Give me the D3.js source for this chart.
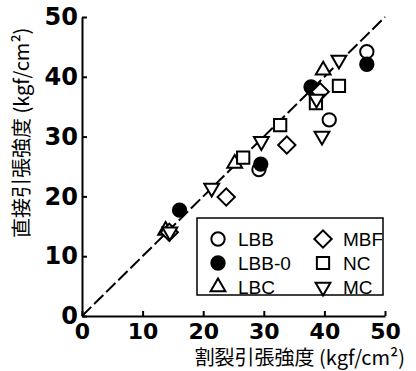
<!DOCTYPE html>
<html>
<head>
<meta charset="utf-8">
<style>
  body { margin: 0; background: #fff; }
  svg { display: block; }
  .tick line, .domain { stroke: #000; stroke-width: 2; }
</style>
</head>
<body>
<div id="chart"></div>
<script src="https://d3js.org/d3.v7.min.js"></script>
<script>
// values: [split tensile, direct tensile]
const LBB   = [[47.0, 44.2], [40.8, 32.8], [29.2, 24.5]];
const LBB_0 = [[47.0, 42.1], [37.8, 38.3], [29.5, 25.4], [16.1, 17.7]];
const LBC   = [[25.2, 25.5], [39.8, 41.1], [13.8, 14.3]];
const MBF   = [[14.4, 14.0], [23.8, 19.9], [33.8, 28.6], [39.3, 37.5]];
const NC    = [[26.6, 26.5], [32.7, 31.9], [38.6, 35.6], [42.4, 38.5]];
const MC    = [[21.4, 21.4], [29.6, 29.2], [39.6, 30.1], [38.7, 36.3], [42.4, 42.8], [14.5, 14.1]];

const ticks = [0, 10, 20, 30, 40, 50];
const xTitle = "割裂引張強度 (kgf/cm²)";
const yTitle = "直接引張強度 (kgf/cm²)";

const series = [
  { name: "LBB",   data: LBB,   shape: "circle",   fill: "#fff" },
  { name: "LBB-0", data: LBB_0, shape: "circle",   fill: "#000" },
  { name: "LBC",   data: LBC,   shape: "triUp",    fill: "#fff" },
  { name: "MBF",   data: MBF,   shape: "diamond",  fill: "#fff" },
  { name: "NC",    data: NC,    shape: "square",   fill: "#fff" },
  { name: "MC",    data: MC,    shape: "triDown",  fill: "#fff" }
];

const width = 416, height = 371;
const svg = d3.select("#chart").append("svg")
  .attr("width", width).attr("height", height);

const x = d3.scaleLinear().domain([0, 50]).range([82, 385]);
const y = d3.scaleLinear().domain([0, 50]).range([316, 17]);

// symbol generators
const symbolFor = shape => {
  if (shape === "circle") return d3.symbol(d3.symbolCircle, 140)();
  if (shape === "square" || shape === "diamond") return d3.symbol(d3.symbolSquare, 150)();
  return d3.symbol(d3.symbolTriangle, 95)();
};
const rotFor = shape => shape === "diamond" ? 45 : shape === "triDown" ? 180 : 0;

// 1:1 line
svg.append("line")
  .attr("x1", x(0)).attr("y1", y(0))
  .attr("x2", x(50)).attr("y2", y(50))
  .attr("stroke", "#000").attr("stroke-width", 2)
  .attr("stroke-dasharray", "13,4");

// axes
const xAxis = svg.append("g")
  .attr("transform", `translate(0,${y(0)})`)
  .call(d3.axisBottom(x).tickValues(ticks).tickSizeInner(-5).tickSizeOuter(0).tickPadding(7));
const yAxis = svg.append("g")
  .attr("transform", `translate(${x(0)},0)`)
  .call(d3.axisLeft(y).tickValues(ticks).tickSizeInner(-5).tickSizeOuter(0).tickPadding(4));

xAxis.selectAll("text")
  .attr("font-family", "DejaVu Sans").attr("font-weight", "bold")
  .attr("font-size", 22).attr("fill", "#000");
yAxis.selectAll("text")
  .attr("font-family", "DejaVu Sans").attr("font-weight", "bold")
  .attr("font-size", 24).attr("fill", "#000");

// axis titles
svg.append("text")
  .attr("x", 405).attr("y", 365)
  .attr("text-anchor", "end")
  .attr("font-family", "Noto Sans CJK JP").attr("font-size", 20)
  .text(xTitle);

svg.append("text")
  .attr("transform", "translate(29,238) rotate(-90)")
  .attr("text-anchor", "start")
  .attr("font-family", "Noto Sans CJK JP").attr("font-size", 20)
  .text(yTitle);

// points
series.forEach(s => {
  svg.append("g").selectAll("path")
    .data(s.data)
    .join("path")
    .attr("d", symbolFor(s.shape))
    .attr("transform", d => `translate(${x(d[0])},${y(d[1])}) rotate(${rotFor(s.shape)})`)
    .attr("fill", s.fill)
    .attr("stroke", "#000")
    .attr("stroke-width", 2);
});

// legend
const legend = svg.append("g");
legend.append("rect")
  .attr("x", 197).attr("y", 218).attr("width", 186).attr("height", 77)
  .attr("fill", "#fff").attr("stroke", "#000").attr("stroke-width", 1.5);

series.forEach((s, i) => {
  const col = Math.floor(i / 3), row = i % 3;
  const sx = 218 + col * 105, sy = 239 + row * 24;
  legend.append("path")
    .attr("d", symbolFor(s.shape))
    .attr("transform", `translate(${sx},${sy}) rotate(${rotFor(s.shape)})`)
    .attr("fill", s.fill).attr("stroke", "#000").attr("stroke-width", 2);
  legend.append("text")
    .attr("x", sx + 20).attr("y", sy + 7)
    .attr("font-family", "Liberation Sans Narrow, Liberation Sans")
    .attr("font-size", 19)
    .text(s.name);
});
</script>
</body>
</html>
